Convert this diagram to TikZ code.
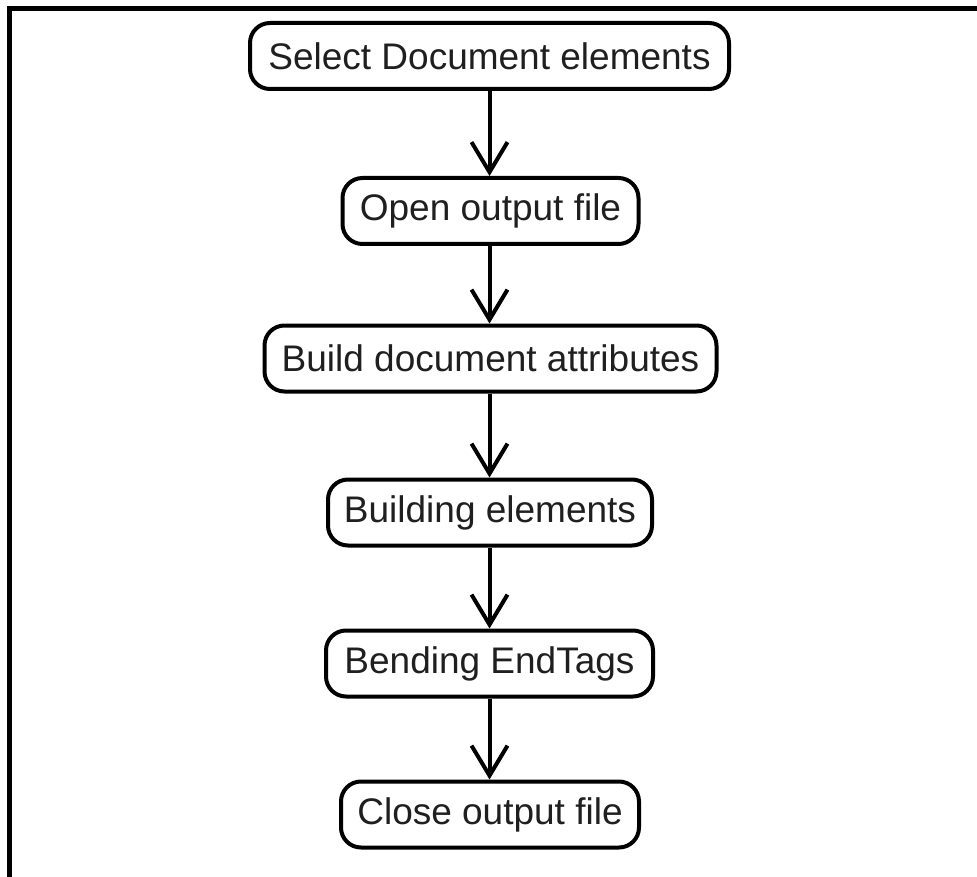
\documentclass[tikz,border=0pt]{standalone}
\usepackage{fontspec}
\setmainfont{Liberation Sans}
\usetikzlibrary{arrows.meta}
\tikzset{
  stepbox/.style={draw=black, line width=4pt, rounded corners=20pt, fill=white,
    minimum height=66pt, inner sep=0pt, text=black!88,
    font=\fontsize{37}{40}\selectfont},
  flow/.style={line width=4pt, -{Straight Barb[length=30pt,width=36pt,line width=4pt]}},
  frame/.style={line width=5pt}
}
\begin{document}
\begin{tikzpicture}[x=1pt,y=-1pt]
\useasboundingbox (0,0) rectangle (977,877);
\coordinate (f1) at (7,8.5);
\coordinate (f2) at (977,8.5);
\coordinate (f3) at (9.5,6);
\coordinate (f4) at (9.5,877);
\draw[frame] (f1) -- (f2);
\draw[frame] (f3) -- (f4);
\node[stepbox, minimum width=479pt] (n1) at (489.5,56) {Select Document elements};
\node[stepbox, minimum width=296pt] (n2) at (490.5,211) {Open output file};
\node[stepbox, minimum width=452pt] (n3) at (490.5,358.5) {Build document attributes};
\node[stepbox, minimum width=324pt] (n4) at (490,512.5) {Building elements};
\node[stepbox, minimum width=327pt] (n5) at (489.5,663.5) {Bending EndTags};
\node[stepbox, minimum width=298pt] (n6) at (490,814.5) {Close output file};
\draw[flow] (n1.south -| 489.5,0) -- (n2.north -| 489.5,0);
\draw[flow] (n2.south -| 489.5,0) -- (n3.north -| 489.5,0);
\draw[flow] (n3.south -| 489.5,0) -- (n4.north -| 489.5,0);
\draw[flow] (n4.south -| 489.5,0) -- (n5.north -| 489.5,0);
\draw[flow] (n5.south -| 489.5,0) -- (n6.north -| 489.5,0);
\end{tikzpicture}
\end{document}
